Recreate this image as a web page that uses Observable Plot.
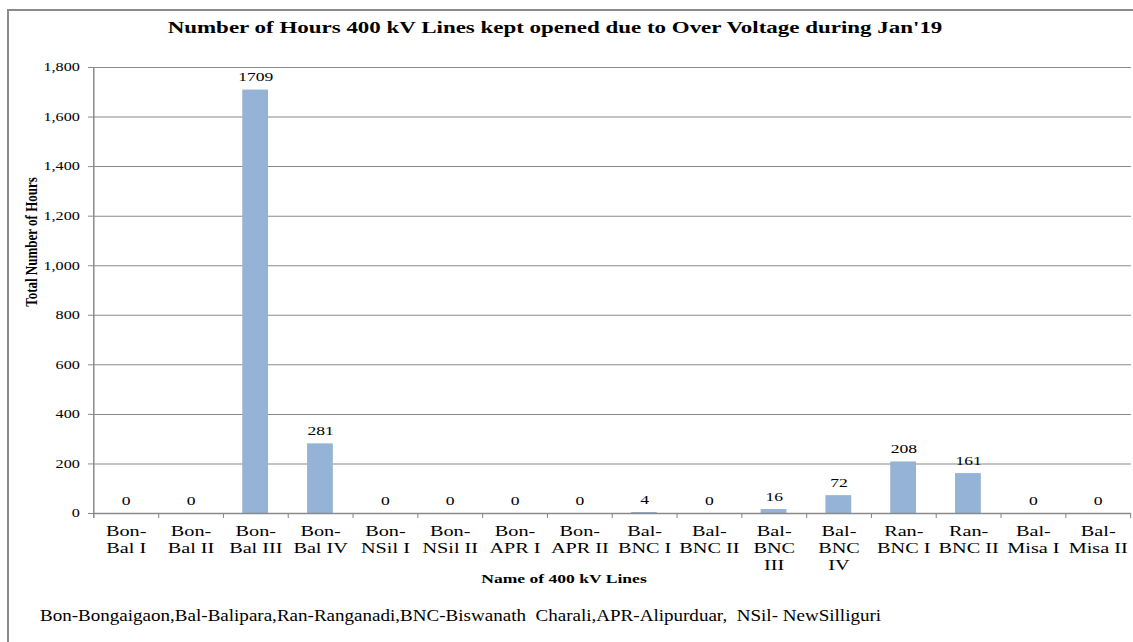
<!DOCTYPE html>
<html><head><meta charset="utf-8">
<script src="https://cdn.jsdelivr.net/npm/d3@7"></script>
<script src="https://cdn.jsdelivr.net/npm/@observablehq/plot@0.6"></script>
<style>
body{margin:0;background:#fff;}
#wrap{position:relative;width:1133px;height:642px;overflow:hidden;font-family:"Liberation Serif","Times New Roman",serif;color:#000;}
#frame{position:absolute;left:7px;top:9px;width:1200px;height:700px;border-left:2px solid #8a8a8a;border-top:2px solid #8a8a8a;}
#title{position:absolute;top:28px;left:555px;transform:translate(-50%,-50%) scaleX(1.35);font-weight:bold;font-size:17px;white-space:nowrap;}
#chart{position:absolute;left:0;top:50px;transform:scaleX(1.35);transform-origin:0 0;}
#ylabel{position:absolute;left:32px;top:242px;transform:translate(-50%,-50%) rotate(-90deg) scaleY(1.3);font-weight:bold;font-size:13px;white-space:nowrap;}
#xlabel{position:absolute;left:564px;top:579px;transform:translate(-50%,-50%) scaleX(1.35);font-weight:bold;font-size:13px;white-space:nowrap;}
#note{position:absolute;left:40px;top:606px;transform:scaleX(1.12);transform-origin:0 50%;font-size:17px;white-space:nowrap;}
</style>
</head><body>
<div id="wrap">
<div id="frame"></div>
<div id="title">Number of Hours 400 kV Lines kept opened due to Over Voltage during Jan'19</div>
<div id="chart"></div>
<div id="ylabel">Total Number of Hours</div>
<div id="xlabel">Name of 400 kV Lines</div>
<div id="note">Bon-Bongaigaon,Bal-Balipara,Ran-Ranganadi,BNC-Biswanath&nbsp; Charali,APR-Alipurduar,&nbsp; NSil- NewSilliguri</div>
</div>
<script>
const categories = ["Bon-Bal I","Bon-Bal II","Bon-Bal III","Bon-Bal IV","Bon-NSil I","Bon-NSil II","Bon-APR I","Bon-APR II","Bal-BNC I","Bal-BNC II","Bal-BNC III","Bal-BNC IV","Ran-BNC I","Ran-BNC II","Bal-Misa I","Bal-Misa II"];
const hours = [0,0,1709,281,0,0,0,0,4,0,16,72,208,161,0,0];
const tickLabels = ["Bon-\nBal I","Bon-\nBal II","Bon-\nBal III","Bon-\nBal IV","Bon-\nNSil I","Bon-\nNSil II","Bon-\nAPR I","Bon-\nAPR II","Bal-\nBNC I","Bal-\nBNC II","Bal-\nBNC\nIII","Bal-\nBNC\nIV","Ran-\nBNC I","Ran-\nBNC II","Bal-\nMisa I","Bal-\nMisa II"];
const yTicks = [0,200,400,600,800,1000,1200,1400,1600,1800];

const data = categories.map((c, i) => ({line: c, hours: hours[i]}));
const S = 1.35;                 // horizontal stretch of the reference picture
const W = 1133 / S, ML = 93 / S, MR = 2 / S;
const bw = (W - ML - MR) / categories.length;
const grey = "#8a8a8a";

const chart = Plot.plot({
  width: W,
  height: 545,
  marginLeft: ML,
  marginRight: MR,
  marginTop: 17,
  marginBottom: 82,
  style: {fontFamily: "'Liberation Serif','Times New Roman',serif", fontSize: "13px", color: "#000", background: "transparent", overflow: "visible"},
  x: {domain: categories, padding: 0, label: null},
  y: {domain: [0, 1800], label: null},
  marks: [
    Plot.gridY(yTicks, {stroke: grey, strokeOpacity: 1}),
    Plot.barY(data, {x: "line", y: "hours", fill: "#95b3d7", insetLeft: 19.5 / S, insetRight: 19.5 / S}),
    Plot.ruleY([0], {stroke: grey, strokeWidth: 1.5}),
    Plot.ruleX([categories[0]], {dx: -bw / 2, y1: 1800, y2: 0, insetBottom: -5, stroke: grey, strokeWidth: 1.1}),
    Plot.ruleX(categories, {dx: bw / 2, y1: 0, y2: 0, insetBottom: -5, stroke: grey, strokeWidth: 0.8}),
    Plot.text(data, {x: "line", y: "hours", text: d => String(d.hours), dy: -13, fontSize: 13, fill: "#000"}),
    Plot.axisY(yTicks, {tickFormat: d3.format(","), tickSize: 5 / S, tickPadding: 6.5, fontSize: 12, stroke: grey, fill: "#000", label: null}),
    Plot.axisX({tickSize: 0, tickPadding: 10, tickFormat: d => tickLabels[categories.indexOf(d)], fontSize: 15, lineHeight: 1.14, fill: "#000", label: null})
  ]
});
document.getElementById("chart").appendChild(chart);
</script>
</body></html>
